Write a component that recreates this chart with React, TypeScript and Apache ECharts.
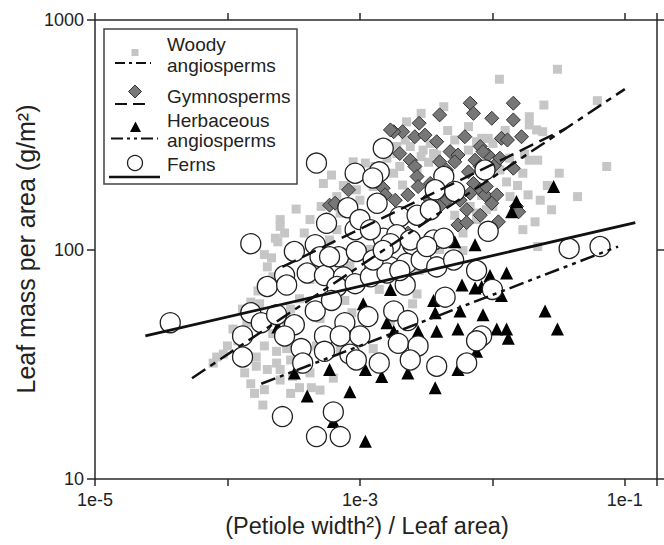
import React, { useEffect, useRef } from 'react';
import * as echarts from 'echarts';

// ---------- data (x = (petiole width^2)/leaf area, y = leaf mass per area g/m^2) ----------
const woody: [number, number][] = [
  [0.031, 610], [0.0113, 552], [0.0245, 426], [0.062, 445], [0.019, 379], [0.024, 326], [0.0216, 332], [0.019, 349],
  [0.0083, 305], [0.019, 245], [0.022, 245], [0.017, 215], [0.073, 230], [0.0029, 392], [0.00225, 360], [0.0066, 343],
  [0.0136, 170], [0.0186, 173], [0.023, 164], [0.028, 149], [0.044, 170], [0.021, 132], [0.017, 122], [0.022, 103],
  [0.0076, 144], [0.009, 149], [0.0083, 172], [0.0128, 197], [0.0114, 222], [0.0034, 290], [0.0038, 258], [0.003, 271],
  [0.0024, 281], [0.0085, 233], [0.0076, 295], [0.0093, 305], [0.0057, 182], [0.0068, 154], [0.0036, 176], [6.1e-4, 211],
  [8.9e-4, 241], [0.0011, 238], [0.0019, 281], [0.0022, 300], [0.0019, 262], [0.0036, 262], [0.0029, 254], [0.0018, 215],
  [0.002, 230], [9.4e-4, 182], [0.001, 164], [0.00126, 188], [0.0021, 191], [2.5e-4, 135], [2.5e-4, 126], [2.7e-4, 118],
  [2.3e-4, 112], [1.9e-4, 95], [2.15e-4, 92], [2.0e-4, 84], [4.2e-4, 135], [5.1e-4, 154], [6.7e-4, 122], [8.9e-4, 135],
  [7.1e-4, 144], [2.4e-4, 108], [2.2e-4, 76], [1.5e-4, 59], [1.3e-4, 55], [1.75e-4, 58], [8.3e-5, 34], [9.3e-5, 35],
  [1.9e-4, 38], [1.65e-4, 34], [1.65e-4, 31], [2.0e-4, 30], [2.35e-4, 32], [2.5e-4, 30], [1.5e-4, 26], [1.6e-4, 23.6],
  [1.9e-4, 24.5], [2.5e-4, 27], [3.1e-4, 28], [3.5e-4, 25], [3.0e-4, 33], [4.7e-4, 38], [4.3e-4, 25], [3.5e-4, 30],
  [2.8e-4, 37], [1.85e-4, 21], [3.0e-4, 23.6], [5.0e-4, 24.4], [2.35e-4, 36], [7.8e-5, 32], [6.3e-4, 27.5], [0.0025, 58],
  [0.0027, 64], [8.7e-4, 53], [9.4e-4, 39], [0.00126, 37], [4.2e-4, 29], [0.0043, 419], [0.0066, 271], [0.0101, 290],
  [0.0101, 154], [0.0104, 126], [0.0076, 135], [5.3e-4, 194], [6.7e-4, 170], [0.006, 118], [0.006, 99], [5.9e-4, 110],
  [8.4e-4, 85], [3.5e-4, 61], [5.0e-4, 50], [7.7e-4, 60], [0.0014, 67], [0.0028, 81], [0.004, 100], [0.002, 122],
  [0.0012, 100], [4.2e-4, 74], [3.0e-4, 55], [7.1e-4, 37], [0.0017, 49], [0.0052, 141],
  [1.1e-4, 45], [1.2e-4, 40], [1.4e-4, 48], [1.0e-4, 38], [1.35e-4, 29], [2.2e-4, 43], [2.8e-4, 48], [1.7e-4, 66],
  [3.3e-4, 150], [3.8e-4, 118], [7.5e-4, 190], [1.3e-3, 230], [1.6e-3, 250], [0.0155, 190], [0.0175, 260],
  [0.026, 190], [0.032, 215], [0.0135, 250], [0.0125, 330], [0.0046, 330], [0.0052, 300], [0.0027, 225], [0.0033, 240],
];

const gymno: [number, number][] = [
  [0.0068, 434], [0.004, 386], [0.0072, 392], [0.0099, 373], [0.0028, 355], [0.0021, 326], [0.0018, 326], [0.0026, 310],
  [0.0031, 315], [0.0038, 295], [0.0062, 310], [0.0081, 281], [0.002, 262], [0.0024, 245], [0.0026, 230], [0.0048, 267],
  [0.0055, 258], [0.004, 241], [0.0052, 241], [0.0074, 245], [0.0093, 258], [0.0027, 208], [0.00275, 188], [0.0045, 222],
  [0.0066, 218], [0.0081, 230], [0.0104, 233], [8.2e-4, 182], [5.9e-4, 156], [6.5e-4, 159], [0.0015, 185], [0.00155, 173],
  [0.00185, 164], [0.0023, 173], [0.0051, 185], [0.0057, 164], [0.0072, 194], [0.0081, 182], [0.0068, 176], [0.0088, 173],
  [0.0108, 173], [0.0045, 164], [0.0033, 167], [0.004, 154], [0.0064, 149], [0.0081, 141], [0.0099, 159], [0.0023, 118],
  [0.0055, 128], [0.0064, 131], [0.009, 188], [0.0144, 434], [0.0144, 367], [0.0117, 305], [0.013, 300], [0.0166, 310],
  [0.0114, 250], [0.0144, 226], [0.0152, 154], [0.0158, 146], [0.0111, 132], [0.0017, 332], [0.0034, 194], [0.0036, 170],
  [0.0085, 267],
];

const herb: [number, number][] = [
  [0.0017, 67], [0.00106, 58], [0.0016, 48], [0.0036, 60], [0.0037, 53], [0.0059, 70], [0.0074, 68], [0.0057, 54],
  [0.0038, 44], [0.0055, 45], [0.00275, 44], [2.4e-4, 46], [3.2e-4, 29], [5.9e-4, 30], [0.0011, 30], [0.00146, 28],
  [0.0023, 29], [0.0037, 25], [0.0055, 30], [4.0e-4, 23], [8.4e-4, 24], [6.3e-4, 17.8], [0.0011, 14.6], [0.0076, 36],
  [0.0052, 108], [0.0074, 105], [0.0096, 77], [0.0128, 79], [0.0083, 69], [0.0117, 63], [0.025, 54], [0.031, 45],
  [0.0085, 52], [0.0108, 45], [0.0128, 45], [0.0132, 41], [0.0018, 44], [0.029, 188], [0.0152, 162], [0.014, 146],
];

const ferns: [number, number][] = [
  [3.7e-5, 48], [1.5e-4, 106], [4.7e-4, 238], [0.0015, 276], [9.2e-4, 215], [0.0014, 218], [0.00125, 205], [8.1e-4, 152],
  [0.00135, 159], [0.002, 139], [0.0027, 141], [0.0034, 149], [5.6e-4, 130], [9.2e-4, 122], [0.001, 135], [0.0015, 112],
  [0.0019, 116], [0.0025, 105], [0.0036, 110], [3.2e-4, 98], [4.6e-4, 105], [5.0e-4, 93], [6.9e-4, 93], [9.4e-4, 98],
  [0.0013, 83], [0.0017, 84], [0.00225, 87], [0.0029, 90], [2.7e-4, 77], [4.0e-4, 79], [2.0e-4, 69], [2.8e-4, 70],
  [5.4e-4, 77], [7.5e-4, 76], [6.7e-4, 69], [9.2e-4, 71], [0.0012, 76], [0.0016, 79], [0.0022, 70], [0.0044, 62],
  [1.5e-4, 53], [1.8e-4, 48], [2.35e-4, 52], [3.2e-4, 47], [4.6e-4, 54], [6.1e-4, 60], [7.7e-4, 48], [0.00115, 51],
  [0.0018, 54], [0.0023, 49], [1.3e-4, 42], [2.7e-4, 42], [3.6e-4, 37], [5.4e-4, 42], [7.1e-4, 42], [0.001, 42],
  [5.4e-4, 36], [8.4e-4, 35], [0.00195, 39], [0.00275, 38], [1.3e-4, 34], [3.7e-4, 32], [9.4e-4, 33], [0.0014, 32],
  [0.0024, 33], [0.0038, 31], [0.0064, 32], [2.6e-4, 18.7], [6.3e-4, 19.6], [4.7e-4, 15.3], [7.1e-4, 15.3], [0.038, 101],
  [0.065, 103], [0.0076, 81], [0.01, 67], [0.0083, 42], [0.0076, 40], [0.0043, 208], [0.0088, 222], [0.0037, 182],
  [0.0052, 179], [0.0093, 120], [0.0043, 112], [0.0012, 122], [0.0017, 106], [0.0024, 110], [0.0032, 103], [5.9e-4, 93],
  [0.00126, 90], [0.0015, 99], [0.002, 81], [0.0038, 84], [0.0051, 90],
];

// regression lines (end points)
const woodyFit: [number, number][] = [[5.4e-5, 27.5], [0.1, 500]];
const gymnoFit: [number, number][] = [[2.6e-4, 84], [0.036, 337]];
const herbFit: [number, number][] = [[1.8e-4, 26], [0.089, 103]];
const fernFit: [number, number][] = [[2.4e-5, 42], [0.12, 131]];

// axes
const xMin = 1e-5;
const xMax = 0.175;
const yMin = 10;
const yMax = 1000;
const xLabelExponents = [-5, -3, -1];

const legendNames = ['Woody', 'angiosperms', 'Gymnosperms', 'Herbaceous', 'angiosperms', 'Ferns'];
const xTitle = '(Petiole width²) / Leaf area)';
const yTitle = 'Leaf mass per area (g/m²)';

const FONT = "'Liberation Sans', Arial, Helvetica, sans-serif";
const AXIS_COLOR = '#2a2a2a';

export default function App() {
  const ref = useRef<HTMLDivElement>(null);

  useEffect(() => {
    if (!ref.current) return;
    const chart = echarts.init(ref.current, null, { renderer: 'svg' });

    const axisLine = { show: true, lineStyle: { color: AXIS_COLOR, width: 1.5 } };
    const axisTick = { show: true, inside: false, length: 7, lineStyle: { color: AXIS_COLOR, width: 1.5 } };

    const xFormatter = (v: number) => {
      const lg = Math.log10(v);
      const e = Math.round(lg);
      if (Math.abs(lg - e) > 0.01) return '';
      return xLabelExponents.includes(e) ? `1e${e}` : '';
    };
    const yFormatter = (v: number) => {
      const lg = Math.log10(v);
      if (Math.abs(lg - Math.round(lg)) > 0.01) return '';
      return String(Math.round(v));
    };

    const textStyleBase = { fontFamily: FONT, fill: '#222' };
    const legendText = (text: string, x: number, y: number) => ({
      type: 'text', x, y, z: 101,
      style: { ...textStyleBase, text, fontSize: 19, align: 'left', verticalAlign: 'middle', textAlign: 'left', textVerticalAlign: 'middle' },
    });

    const graphic: any[] = [
      // legend box
      { type: 'rect', z: 100, shape: { x: 104, y: 29, width: 193, height: 155 }, style: { fill: '#fff', stroke: '#444', lineWidth: 1.5 } },
      // woody
      { type: 'rect', z: 101, shape: { x: 131.5, y: 49, width: 7, height: 7 }, style: { fill: '#c4c4c4' } },
      { type: 'line', z: 101, shape: { x1: 115, y1: 63, x2: 151, y2: 63 }, style: { stroke: '#111', lineWidth: 2, lineDash: [10, 4, 3, 4] } },
      legendText(legendNames[0], 167, 44),
      legendText(legendNames[1], 167, 65),
      // gymno
      { type: 'polygon', z: 101, shape: { points: [[135, 85], [141.5, 91.5], [135, 98], [128.5, 91.5]] }, style: { fill: '#787878', stroke: '#333', lineWidth: 1 } },
      { type: 'line', z: 101, shape: { x1: 115, y1: 104, x2: 151, y2: 104 }, style: { stroke: '#111', lineWidth: 2, lineDash: [12, 6] } },
      legendText(legendNames[2], 167, 96),
      // herb
      { type: 'polygon', z: 101, shape: { points: [[135.5, 121.5], [141, 132], [130, 132]] }, style: { fill: '#000' } },
      { type: 'line', z: 101, shape: { x1: 111, y1: 138.5, x2: 158, y2: 138.5 }, style: { stroke: '#111', lineWidth: 2, lineDash: [12, 4, 3, 4, 3, 4] } },
      legendText(legendNames[3], 167, 120),
      legendText(legendNames[4], 167, 140),
      // ferns
      { type: 'circle', z: 101, shape: { cx: 135, cy: 163, r: 7.5 }, style: { fill: '#fff', stroke: '#222', lineWidth: 1.3 } },
      { type: 'line', z: 101, shape: { x1: 109, y1: 177, x2: 160, y2: 177 }, style: { stroke: '#111', lineWidth: 2.5 } },
      legendText(legendNames[5], 167, 164),
      // axis titles
      {
        type: 'text', x: 367, y: 526, z: 101,
        style: { ...textStyleBase, text: xTitle, fontSize: 23.5, align: 'center', verticalAlign: 'middle', textAlign: 'center', textVerticalAlign: 'middle' },
      },
      {
        type: 'text', x: 26, y: 249, z: 101, rotation: Math.PI / 2,
        style: { ...textStyleBase, text: yTitle, fontSize: 25, align: 'center', verticalAlign: 'middle', textAlign: 'center', textVerticalAlign: 'middle' },
      },
    ];

    const scatterBase = { type: 'scatter', xAxisIndex: 0, yAxisIndex: 0, silent: true };
    const lineBase = (data: [number, number][], dash: any, width = 2.5) => ({
      type: 'line', xAxisIndex: 0, yAxisIndex: 0, data, showSymbol: false, symbol: 'none', silent: true,
      lineStyle: { color: '#111', width, type: dash },
    });

    chart.setOption({
      animation: false,
      backgroundColor: '#fff',
      textStyle: { fontFamily: FONT },
      grid: { left: 95, right: 7, top: 20, bottom: 66, containLabel: false },
      xAxis: [
        {
          type: 'log', logBase: 10, min: xMin, max: xMax, position: 'bottom',
          axisLine, axisTick, splitLine: { show: false }, minorTick: { show: false },
          axisLabel: { formatter: xFormatter, fontSize: 18, color: '#222', margin: 12, fontFamily: FONT },
        },
        {
          type: 'log', logBase: 10, min: xMin, max: xMax, position: 'top',
          axisLine, axisTick, splitLine: { show: false }, axisLabel: { show: false },
        },
      ],
      yAxis: [
        {
          type: 'log', logBase: 10, min: yMin, max: yMax, position: 'left',
          axisLine, axisTick: { ...axisTick, length: 8 }, splitLine: { show: false }, minorTick: { show: false },
          axisLabel: { formatter: yFormatter, fontSize: 18, color: '#222', margin: 11, fontFamily: FONT },
        },
        {
          type: 'log', logBase: 10, min: yMin, max: yMax, position: 'right',
          axisLine, axisTick, splitLine: { show: false }, axisLabel: { show: false },
        },
      ],
      series: [
        { ...scatterBase, name: 'Woody angiosperms', data: woody, symbol: 'rect', symbolSize: 9, itemStyle: { color: '#c6c6c6', opacity: 1 } },
        { ...scatterBase, name: 'Gymnosperms', data: gymno, symbol: 'diamond', symbolSize: 14, itemStyle: { color: '#777', borderColor: '#333', borderWidth: 1, opacity: 1 } },
        { ...scatterBase, name: 'Herbaceous angiosperms', data: herb, symbol: 'triangle', symbolSize: 13, itemStyle: { color: '#000', opacity: 1 } },
        { ...scatterBase, name: 'Ferns', data: ferns, symbol: 'circle', symbolSize: 20, itemStyle: { color: '#fff', borderColor: '#222', borderWidth: 1.3, opacity: 1 } },
        lineBase(woodyFit, [16, 6, 6, 6]),
        lineBase(gymnoFit, [15, 7]),
        lineBase(herbFit, [15, 5, 4, 5, 4, 5]),
        lineBase(fernFit, 'solid', 2.8),
      ],
      graphic,
    });

    return () => chart.dispose();
  }, []);

  return (
    <div
      ref={ref}
      style={{ position: 'fixed', left: 0, top: 0, width: 664, height: 545, background: '#fff' }}
    />
  );
}
